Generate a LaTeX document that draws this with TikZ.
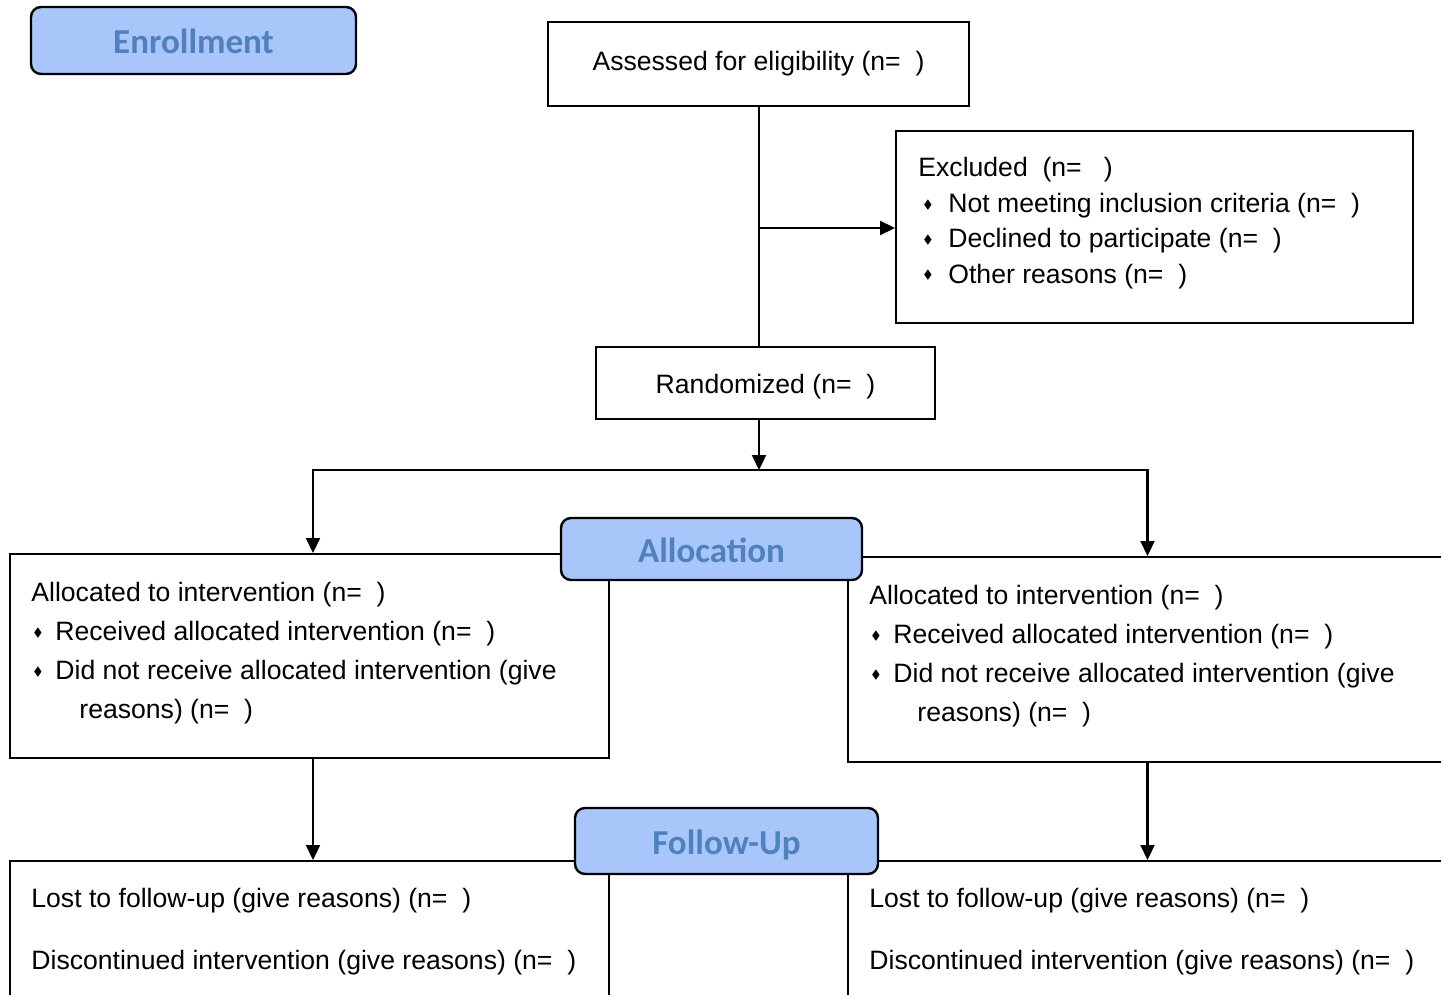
\documentclass[tikz,border=0pt]{standalone}
\usepackage{amssymb}
\usepackage{fontspec}
\setmainfont{Liberation Sans}
\newfontfamily\hdfont{Carlito}
\usetikzlibrary{arrows.meta,positioning}
\definecolor{hdfill}{RGB}{168,198,250}
\definecolor{hdtext}{RGB}{79,129,189}
\newcommand{\dia}{\raisebox{2pt}{\fontsize{6}{6}\selectfont$\blacklozenge$}}
\newcommand{\bul}[2]{\makebox[#1][l]{\hspace*{#2}\dia}}
\tikzset{
  box/.style={draw, line width=1pt, inner sep=0pt, font=\fontsize{13.3}{17.7}\selectfont},
  hd/.style={draw, line width=1.2pt, rounded corners=5pt, fill=hdfill, text=hdtext, inner sep=0pt,
    text height=13pt, text depth=0pt, font=\hdfont\bfseries\fontsize{17.5}{20}\selectfont},
  txt/.style={anchor=base west, inner sep=0pt, align=left, font=\fontsize{13.3}{19.5}\selectfont},
  arr/.style={line width=1.1pt, -{Triangle[length=7.5pt,width=7pt]}},
  ln/.style={line width=1.1pt}
}
\begin{document}
\begin{tikzpicture}[x=0.5pt,y=-0.5pt]
  \clip (0,0) rectangle (1441,995);

  % boxes
  \node[box, minimum width=210.5pt, minimum height=42pt] (assess) at (758.5,64) {Assessed for eligibility (n=\ \ )};
  \node[box, minimum width=258.5pt, minimum height=96pt] (excl) at (1154.5,227) {};
  \node[box, minimum width=169.5pt, minimum height=36pt, text height=13pt] (rand) at (765.5,383) {Randomized (n=\ \ )};
  \node[box, minimum width=299.5pt, minimum height=102pt] (allocL) at (309.5,656) {};
  \node[box, minimum width=299.5pt, minimum height=102.5pt] (allocR) at (1147.5,659.5) {};
  \node[box, minimum width=299.5pt, minimum height=119.5pt] (fuL) at (309.5,980.5) {};
  \node[box, minimum width=299.5pt, minimum height=119.5pt] (fuR) at (1147.5,980.5) {};

  % headers
  \node[hd, minimum width=162.5pt, minimum height=33.5pt] (enrollhd) at (193.5,40.5) {Enrollment};
  \node[hd, minimum width=150.5pt, minimum height=31pt] (allochd) at (711.5,549) {Allocation};
  \node[hd, minimum width=151.5pt, minimum height=33pt] (fuhd) at (726.5,841) {Follow-Up};

  % box texts (anchored at the last line)
  \node[txt, font=\fontsize{13.3}{17.7}\selectfont] (exclT) at (918,283) {Excluded\ \ (n=\ \ \ )\\
    \bul{15pt}{2.5pt}Not meeting inclusion criteria (n=\ \ )\\
    \bul{15pt}{2.5pt}Declined to participate (n=\ \ )\\
    \bul{15pt}{2.5pt}Other reasons (n=\ \ )};
  \node[txt] (allocLT) at (31,718) {Allocated to intervention (n=\ \ )\\
    \bul{12pt}{1pt}Received allocated intervention (n=\ \ )\\
    \bul{12pt}{1pt}Did not receive allocated intervention (give\\
    \hspace*{24pt}reasons) (n=\ \ )};
  \node[txt] (allocRT) at (869,721) {Allocated to intervention (n=\ \ )\\
    \bul{12pt}{1pt}Received allocated intervention (n=\ \ )\\
    \bul{12pt}{1pt}Did not receive allocated intervention (give\\
    \hspace*{24pt}reasons) (n=\ \ )};
  \node[txt, font=\fontsize{13.3}{31}\selectfont] (fuLT) at (31,969) {Lost to follow-up (give reasons) (n=\ \ )\\
    Discontinued intervention (give reasons) (n=\ \ )};
  \node[txt, font=\fontsize{13.3}{31}\selectfont] (fuRT) at (869,969) {Lost to follow-up (give reasons) (n=\ \ )\\
    Discontinued intervention (give reasons) (n=\ \ )};

  % connectors
  \coordinate (split) at (759,228);
  \coordinate (fork) at (759,470);
  \draw[ln] (assess.south -| split) -- (rand.north -| split);
  \draw[arr] (split) -- (excl.west |- split);
  \draw[arr] (rand.south -| fork) -- (fork);
  \draw[arr] (fork) -| ([xshift=1.75pt]allocL.north);
  \draw[arr] (fork) -| (allocR.north);
  \draw[arr] ([xshift=1.75pt]allocL.south) -- ([xshift=1.75pt]fuL.north);
  \draw[arr] (allocR.south) -- (fuR.north);
\end{tikzpicture}
\end{document}
